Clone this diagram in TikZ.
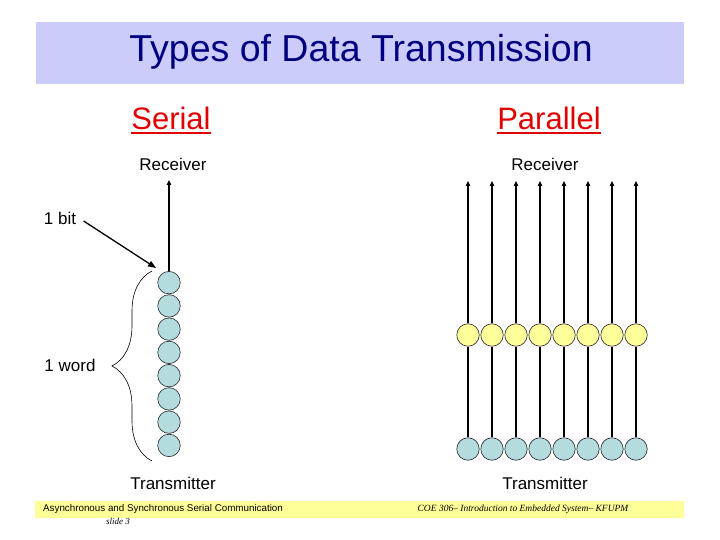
\documentclass[tikz,border=0pt]{standalone}
\usepackage{fontspec}
\setmainfont{Liberation Sans}
\newfontfamily\footserif{Liberation Serif}
\usetikzlibrary{decorations.pathreplacing,arrows.meta}
\definecolor{TitleBand}{HTML}{CCCCFA}
\definecolor{TitleBlue}{HTML}{000080}
\definecolor{FootBand}{HTML}{FFFF99}
\definecolor{BitBlue}{HTML}{B4DCDE}
\definecolor{BitYellow}{HTML}{FFFF99}
\definecolor{HeadRed}{HTML}{E00000}
\tikzset{
  bit/.style={circle,draw=black!85,line width=0.6pt,minimum size=22.5pt,inner sep=0pt},
  wire/.style={line width=1.3pt},
  tipwire/.style={wire,-{Triangle[length=5pt,width=4.5pt]}},
  headline/.style={HeadRed,font=\fontsize{31}{34}\selectfont,inner sep=0pt,anchor=base},
  label/.style={font=\fontsize{17}{20}\selectfont},
}
\begin{document}
\begin{tikzpicture}[x=1pt,y=-1pt]
      \useasboundingbox (0,0) rectangle (720,540);
      % title band
      \fill [TitleBand] (36,22) rectangle (684,84);
      \node [TitleBlue,font=\fontsize{37.5}{42}\selectfont] (title) at (361,52) {Types of Data Transmission};

      % column heads
      \node [headline] (serial) at (171,130) {Serial};
      \draw [HeadRed,line width=2.4pt] ([yshift=-3pt]serial.base west) -- ([yshift=-3pt]serial.base east);
      \node [headline] (parallel) at (549,130) {Parallel};
      \draw [HeadRed,line width=2.4pt] ([yshift=-3pt]parallel.base west) -- ([yshift=-3pt]parallel.base east);

      \node [label] (srecv) at (173,164) {Receiver};
      \node [label] (precv) at (545,164) {Receiver};
      \node [label] (ssend) at (173,483) {Transmitter};
      \node [label] (psend) at (545,483) {Transmitter};

      % serial: one line, eight bits in a row
      \foreach \i in {1,...,8}
        \node [bit,fill=BitBlue] (s\i) at (169,{259.4+23.25*\i}) {};
      \coordinate (stop) at (169,180);
      \draw [tipwire] (s1) -- (stop);

      \node [label] (onebit) at (60,218) {1 bit};
      \coordinate (bitpt) at (156,268);
      \draw [line width=1.3pt,-{Triangle[length=8pt,width=6pt]}] ([xshift=4pt,yshift=-3pt]onebit.east) -- (bitpt);

      \draw [decorate,decoration={brace,amplitude=40pt,aspect=0.5},line width=0.6pt]
        (152,461) -- (152,271) coordinate[midway] (bracemid);
      \node [label] (oneword) at (70,365) {1 word};

      % parallel: eight lines side by side
      \foreach \i in {1,...,8} {
        \node [bit,fill=BitBlue] (pb\i) at ({444+24*\i},449) {};
        \node [bit,fill=BitYellow] (py\i) at ({444+24*\i},335) {};
        \coordinate (ptop\i) at ({444+24*\i},181);
        \draw [wire] (pb\i) -- (py\i);
        \draw [tipwire] (py\i) -- (ptop\i);
      }

      % footer
      \fill [FootBand] (35,501) rectangle (684,518);
      \node [anchor=west,inner sep=0pt,font=\fontsize{9.8}{11}\selectfont] (course) at (43,509) {Asynchronous and Synchronous Serial Communication};
      \node [inner sep=0pt,font=\footserif\itshape\fontsize{9}{10}\selectfont] (slide) at (118,521) {slide 3};
      \node [inner sep=0pt,font=\footserif\itshape\fontsize{9.5}{11}\selectfont] (coe) at (523,509) {COE 306– Introduction to Embedded System– KFUPM};
\end{tikzpicture}
\end{document}
